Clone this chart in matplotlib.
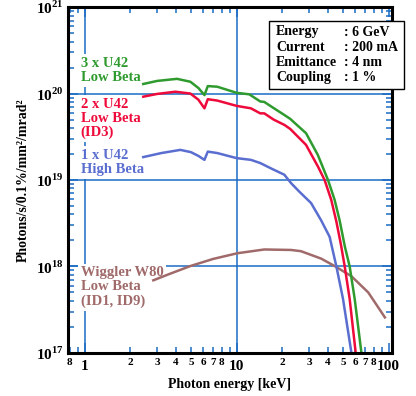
import numpy as np
import matplotlib
matplotlib.use('Agg')
import matplotlib.pyplot as plt
from matplotlib.ticker import FixedLocator, FuncFormatter, NullFormatter

plt.rcParams['font.family'] = ['Liberation Serif', 'DejaVu Serif']
plt.rcParams['font.weight'] = 'bold'
plt.rcParams['axes.labelweight'] = 'bold'
plt.rcParams['mathtext.fontset'] = 'custom'
plt.rcParams['mathtext.rm'] = 'Liberation Serif:bold'
plt.rcParams['mathtext.bf'] = 'Liberation Serif:bold'

# 3 x U42 low beta
e_3u42 = [2.43, 3.0, 4.05, 4.96, 5.6, 6.14, 6.46, 7.45, 10.0, 12.1, 14.3, 15.2,
          17.5, 20.6, 22.5, 24.6, 28.6, 34.2, 39.9, 44.1, 47.6, 51.5, 55.4, 59.8, 66.2]
f_3u42 = [1.29e20, 1.40e20, 1.48e20, 1.37e20, 1.16e20, 9.6e19, 1.22e20, 1.20e20, 1.02e20,
          9.8e19, 8.1e19, 8.0e19, 6.8e19, 5.65e19, 5.1e19, 4.42e19, 3.48e19, 1.95e19,
          1.0e19, 5.9e18, 3.4e18, 1.7e18, 1.0e18, 4.2e17, 1.0e17]

# 2 x U42 low beta
e_2u42 = [2.43, 3.0, 3.95, 4.96, 5.6, 6.14, 6.46, 7.45, 10.0, 12.4, 14.3, 15.2,
          17.5, 20.6, 22.5, 24.6, 28.6, 34.2, 37.9, 41.9, 45.3, 48.5, 51.4, 55.4, 60.7]
f_2u42 = [9.2e19, 9.9e19, 1.05e20, 1.0e20, 8.5e19, 6.75e19, 8.6e19, 8.3e19, 7.2e19,
          6.75e19, 5.9e19, 5.9e19, 5.0e19, 4.34e19, 3.9e19, 3.33e19, 2.55e19, 1.44e19,
          1.0e19, 5.9e18, 3.3e18, 1.8e18, 1.0e18, 4.2e17, 1.0e17]

# 1 x U42 high beta
e_1u42 = [2.43, 3.2, 4.26, 5.0, 5.6, 6.14, 6.46, 7.45, 10.0, 12.4, 14.3, 17.0,
          20.6, 22.8, 25.7, 30.9, 36.0, 40.9, 45.3, 50.1, 56.9]
f_1u42 = [1.84e19, 2.05e19, 2.23e19, 2.1e19, 1.9e19, 1.71e19, 2.13e19, 2.05e19, 1.79e19,
          1.71e19, 1.57e19, 1.35e19, 1.15e19, 9.2e18, 7.4e18, 5.4e18, 3.4e18, 2.2e18,
          1.0e18, 4.2e17, 1.0e17]

# Wiggler W80 low beta
e_w80 = [2.83, 3.5, 4.96, 7.0, 10.1, 15.2, 22.8, 26.5, 36.0, 44.1, 56.9, 73.4, 94.5]
f_w80 = [6.9e17, 8.0e17, 1.01e18, 1.22e18, 1.42e18, 1.57e18, 1.55e18, 1.5e18, 1.23e18,
         1.01e18, 7.7e17, 5.0e17, 2.57e17]

info_keys = ['Energy', 'Current', 'Emittance', 'Coupling']
info_vals = [': 6 GeV', ': 200 mA', ': 4 nm', ': 1 %']

c_green = '#2f9b2f'
c_red = '#ee0a3a'
c_blue = '#5a6ed0'
c_brown = '#a06a6a'
c_grid = '#1a6cc4'

fig = plt.figure(figsize=(4.16, 3.96), dpi=100)
ax = fig.add_axes([0.163, 0.109, 0.779, 0.873])
ax.set_xscale('log')
ax.set_yscale('log')
ax.set_xlim(0.775, 105)
ax.set_ylim(1e17, 1e21)

for xv in [1, 10]:
    ax.axvline(xv, color=c_grid, lw=1.1, zorder=1)
for yv in [1e18, 1e19, 1e20]:
    ax.axhline(yv, color=c_grid, lw=1.1, zorder=1)

ax.plot(e_w80, f_w80, color=c_brown, lw=1.8, zorder=3)
ax.plot(e_1u42, f_1u42, color=c_blue, lw=1.8, zorder=3)
ax.plot(e_2u42, f_2u42, color=c_red, lw=1.8, zorder=3)
ax.plot(e_3u42, f_3u42, color=c_green, lw=1.8, zorder=3)

bb = dict(facecolor='white', edgecolor='none', pad=2)
ax.text(0.04, 0.855, '3 x U42\nLow Beta', color=c_green, fontsize=10.5,
        transform=ax.transAxes, va='top', linespacing=1.1, bbox=bb, zorder=2)
ax.text(0.04, 0.738, '2 x U42\nLow Beta\n(ID3)', color=c_red, fontsize=10.5,
        transform=ax.transAxes, va='top', linespacing=1.1, bbox=bb, zorder=2)
ax.text(0.04, 0.59, '1 x U42\nHigh Beta', color=c_blue, fontsize=10.5,
        transform=ax.transAxes, va='top', linespacing=1.1, bbox=bb, zorder=2)
ax.text(0.04, 0.25, 'Wiggler W80\nLow Beta\n(ID1, ID9)', color=c_brown, fontsize=10.5,
        transform=ax.transAxes, va='top', linespacing=1.1, bbox=bb, zorder=2)

# info box
box = plt.Rectangle((269 / 416, 1 - 89 / 396), 135 / 416, 68 / 396, transform=fig.transFigure,
                    facecolor='white', edgecolor='black', lw=1.0, zorder=5)
fig.add_artist(box)
for i, (k, v) in enumerate(zip(info_keys, info_vals)):
    yy = 1 - (32 + 15.3 * i) / 396
    fig.text(276 / 416, yy, k, fontsize=10, va='center', zorder=6)
    fig.text(344 / 416, yy, v, fontsize=10, va='center', zorder=6)

# ticks
ax.xaxis.set_major_locator(FixedLocator([1, 10, 100]))
xminor = [m * 10.0 ** d for d in [-1, 0, 1] for m in range(2, 10)]
ax.xaxis.set_minor_locator(FixedLocator(xminor))
ax.xaxis.set_major_formatter(FuncFormatter(lambda v, p: '%d' % round(v)))


def minor_lab(v, p):
    m = v / 10 ** np.floor(np.log10(v) + 1e-9)
    m = int(round(m))
    if 2 <= m <= 8:
        return str(m)
    return ''


ax.xaxis.set_minor_formatter(FuncFormatter(minor_lab))
ax.yaxis.set_major_locator(FixedLocator([1e17, 1e18, 1e19, 1e20, 1e21]))
yminor = [m * 10.0 ** d for d in range(17, 21) for m in range(2, 10)]
ax.yaxis.set_minor_locator(FixedLocator(yminor))
ax.yaxis.set_major_formatter(FuncFormatter(lambda v, p: r'$10^{%d}$' % round(np.log10(v))))
ax.yaxis.set_minor_formatter(NullFormatter())

ax.tick_params(which='both', direction='in', top=True, right=True, color=c_grid, width=1.1)
ax.tick_params(which='major', length=7)
ax.tick_params(which='minor', length=4)
ax.tick_params(axis='x', which='major', labelsize=11, pad=5)
ax.tick_params(axis='x', which='minor', labelsize=8, pad=4)
ax.tick_params(axis='y', which='major', labelsize=11, pad=3)

for s in ax.spines.values():
    s.set_linewidth(2.2)
    s.set_zorder(4)

ax.set_xlabel('Photon energy [keV]', fontsize=10, fontweight='bold', labelpad=4)
ax.set_ylabel('Photons/s/0.1%/mm²/mrad²', fontsize=10, fontweight='bold', labelpad=4)

fig.savefig('out.png', dpi=100)
